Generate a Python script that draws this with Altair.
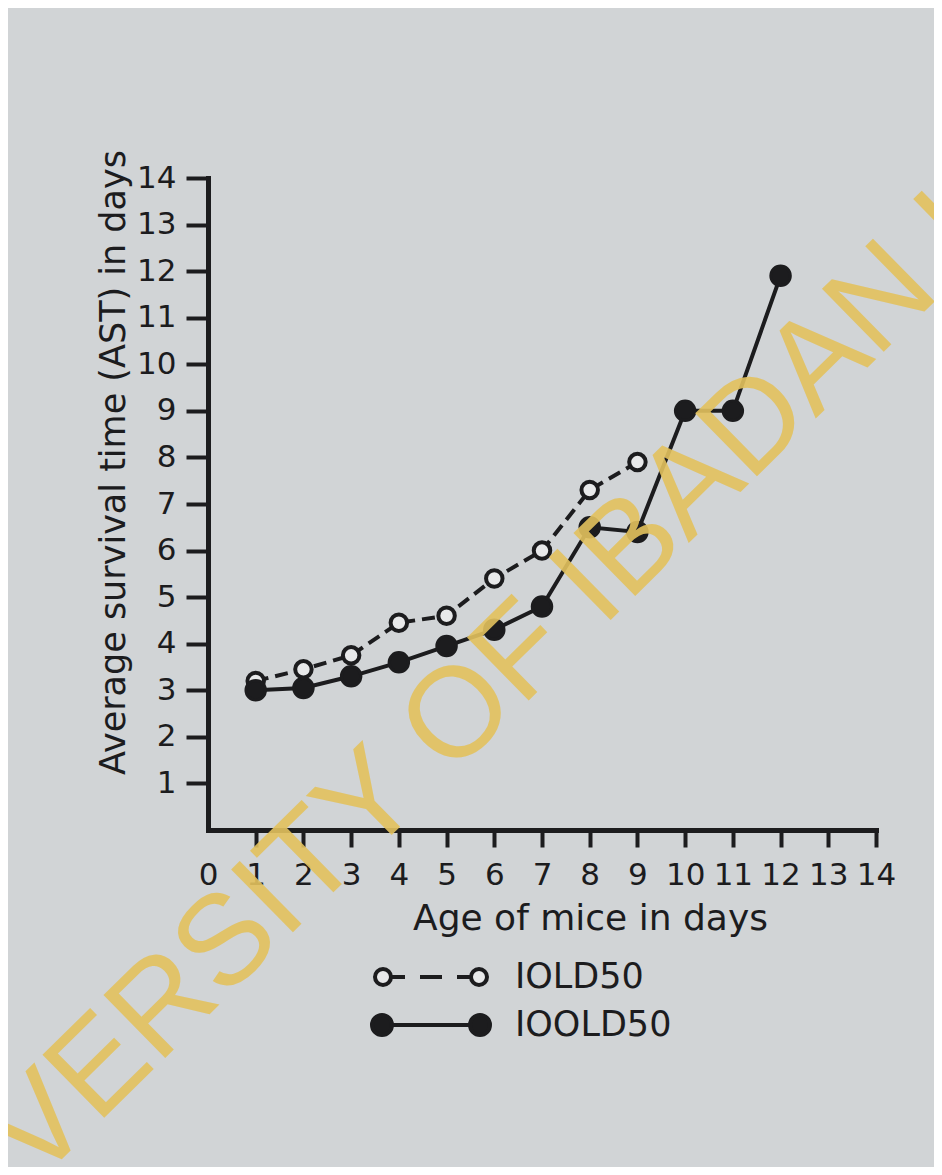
import altair as alt
import pandas as pd

# ---- data ----
age_iold50 = [1, 2, 3, 4, 5, 6, 7, 8, 9]
ast_iold50 = [3.2, 3.45, 3.75, 4.45, 4.6, 5.4, 6.0, 7.3, 7.9]

age_ioold50 = [1, 2, 3, 4, 5, 6, 7, 8, 9, 10, 11, 12]
ast_ioold50 = [3.0, 3.05, 3.3, 3.6, 3.95, 4.3, 4.8, 6.5, 6.4, 9.0, 9.0, 11.9]

series_names = ["IOLD50", "IOOLD50"]
x_tick_values = [0, 1, 2, 3, 4, 5, 6, 7, 8, 9, 10, 11, 12, 13, 14]
y_tick_values = [1, 2, 3, 4, 5, 6, 7, 8, 9, 10, 11, 12, 13, 14]
watermark_text = ["UNIVERSITY OF IBADAN LIBRARY"]

# ---- styles ----
INK = "#1c1c1e"
BG = "#d1d4d6"
OPEN_FILL = "#e8e9ea"
YELLOW = "#e3c25e"
FONT = "DejaVu Sans"

df_open = pd.DataFrame({"age": age_iold50, "ast": ast_iold50, "series": series_names[0]})
df_fill = pd.DataFrame({"age": age_ioold50, "ast": ast_ioold50, "series": series_names[1]})
df_all = pd.concat([df_open, df_fill], ignore_index=True)

x_enc = alt.X(
    "age:Q",
    scale=alt.Scale(domain=[0, 14], nice=False),
    axis=alt.Axis(
        values=x_tick_values, format="d", grid=False, labelAngle=0,
        domainColor=INK, domainWidth=5, domainCap="square",
        tickColor={"condition": {"test": "datum.value === 0", "value": "transparent"}, "value": INK},
        tickSize=17, tickWidth=4,
        labelFont=FONT, labelFontSize=31, labelColor=INK, labelPadding=13,
        labelFlush=False, labelOverlap=False,
        title="Age of mice in days", titleFont=FONT, titleFontSize=36,
        titleFontWeight="normal", titleColor=INK, titleX=382, titleY=71,
    ),
)
y_enc = alt.Y(
    "ast:Q",
    scale=alt.Scale(domain=[0, 14], nice=False),
    axis=alt.Axis(
        values=y_tick_values, format="d", grid=False,
        domainColor=INK, domainWidth=5, domainCap="square",
        tickColor=INK, tickSize=22, tickWidth=4,
        labelFont=FONT, labelFontSize=31, labelColor=INK, labelPadding=10,
        labelFlush=False, labelOverlap=False,
        title="Average survival time (AST) in days", titleFont=FONT, titleFontSize=35,
        titleFontWeight="normal", titleColor=INK, titleX=-77, titleY=284,
    ),
)

line_open = alt.Chart(df_open).mark_line(
    color=INK, strokeWidth=4, strokeDash=[13, 7]
).encode(x=x_enc, y=y_enc)
line_fill = alt.Chart(df_fill).mark_line(
    color=INK, strokeWidth=4
).encode(x=x_enc, y=y_enc)

pts_open = alt.Chart(df_open).mark_point(
    shape="circle", filled=True, fill=OPEN_FILL, stroke=INK, strokeWidth=4,
    size=272, opacity=1
).encode(x=x_enc, y=y_enc)
pts_fill = alt.Chart(df_fill).mark_point(
    shape="circle", filled=True, fill=INK, stroke=INK, strokeWidth=3,
    size=380, opacity=1
).encode(x=x_enc, y=y_enc)

# legend symbols: line with a circle at each end (unit = sqrt(size)/2 px)
PATH_OPEN = (
    "M -2.8 0 A 0.4 0.4 0 1 0 -2.0 0 A 0.4 0.4 0 1 0 -2.8 0 Z "
    "M 2.0 0 A 0.4 0.4 0 1 0 2.8 0 A 0.4 0.4 0 1 0 2.0 0 Z "
    "M -2.0 0 L -1.3 0 M -0.55 0 L 0.55 0 M 1.3 0 L 2.0 0"
)
PATH_FILL = (
    "M -2.95 0 A 0.5 0.5 0 1 0 -1.95 0 A 0.5 0.5 0 1 0 -2.95 0 Z "
    "M 1.95 0 A 0.5 0.5 0 1 0 2.95 0 A 0.5 0.5 0 1 0 1.95 0 Z "
    "M -1.95 0 L 1.95 0"
)

legend_cfg = alt.Legend(
    title=None, orient="none", legendX=201, legendY=777,
    symbolSize=1600, symbolStrokeWidth=4, symbolStrokeColor=INK, symbolOpacity=1,
    labelFont=FONT, labelFontSize=35, labelColor=INK, labelOffset=62,
    rowPadding=8, padding=0,
)

legend_layer = alt.Chart(df_all).mark_point(
    filled=True, strokeWidth=4, opacity=0
).encode(
    x=x_enc, y=y_enc,
    shape=alt.Shape("series:N", scale=alt.Scale(domain=series_names, range=[PATH_OPEN, PATH_FILL]),
                    legend=legend_cfg),
    fill=alt.Fill("series:N", scale=alt.Scale(domain=series_names, range=[OPEN_FILL, INK]),
                  legend=legend_cfg),
    stroke=alt.Stroke("series:N", scale=alt.Scale(domain=series_names, range=[INK, INK]),
                      legend=legend_cfg),
)

watermark = alt.Chart(pd.DataFrame({"t": watermark_text})).mark_text(
    font="Liberation Sans", fontSize=128, color=YELLOW, opacity=0.9,
    angle=315.5, align="center", baseline="middle"
).encode(text="t:N", x=alt.value(383), y=alt.value(408))

chart = alt.layer(
    line_open, line_fill, pts_open, pts_fill, legend_layer, watermark
).properties(
    width=668, height=652,
    padding={"left": 200, "top": 170, "right": 58, "bottom": 337},
    autosize=alt.AutoSizeParams(type="none"),
    background=BG,
).configure_view(strokeWidth=0)

chart.save("out.html", embed_options={"renderer": "svg", "actions": False})
